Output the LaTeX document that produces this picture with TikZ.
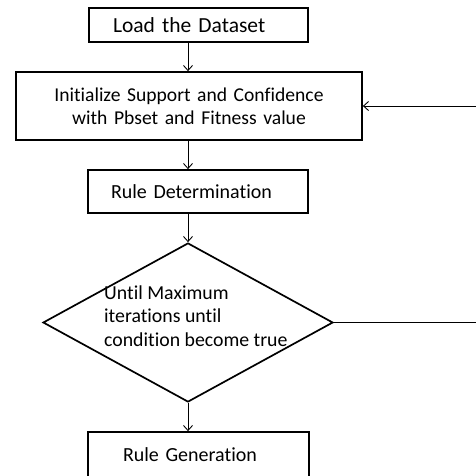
\documentclass[tikz,border=0pt]{standalone}
\usepackage{fontspec}
\setmainfont{Carlito}[Ligatures=NoCommon]
\usetikzlibrary{shapes.geometric,arrows.meta}

\begin{document}
\begin{tikzpicture}[x=1pt, y=-1pt,
        box/.style={draw, rectangle, line width=1.7pt, inner ysep=0pt, align=left,
                    font=\fontsize{20}{23.5}\selectfont},
        decision/.style={draw, diamond, line width=1.7pt, minimum width=290pt,
                         minimum height=159pt, inner sep=0pt},
        arr/.style={-{Straight Barb[length=5pt,width=9pt]}, line width=0.9pt}]
        \useasboundingbox (0,0) rectangle (476,475);

        % Steps of the flow
        \node[box, text width=171pt, inner xsep=24pt, minimum height=34pt,
              font=\fontsize{21.5}{25}\selectfont] (load) at (198.5,25) {Load the Dataset};
        \node[box, align=center, text width=334pt, inner xsep=6pt, minimum height=68pt,
              font=\fontsize{19.6}{23}\selectfont]
              (init) at (189,106) {Initialize Support and Confidence\\with Pbset and Fitness value};
        \node[box, text width=174pt, inner xsep=23pt, minimum height=43pt] (det) at (198,191.5) {Rule Determination};
        \node[decision] (dec) at (188,322.5) {};
        \node[align=left, inner sep=0pt, anchor=west, font=\fontsize{19.8}{23.5}\selectfont]
              (dectext) at (104,316) {Until Maximum\\iterations until\\condition become true};
        \node[box, text width=151pt, inner xsep=35pt, minimum height=46pt] (gen) at (198.5,455) {Rule Generation};

        % Loop back point, outside the visible area
        \coordinate (back) at (480,322.5);

        % Connections
        \draw[arr] (load.south -| dec) -- (init.north -| dec);
        \draw[arr] (init.south -| dec) -- (det.north -| dec);
        \draw[arr] (det.south -| dec) -- (dec.north);
        \draw[arr] (dec.south) -- (gen.north -| dec);
        \draw[arr] (dec.east) -- (back) |- (init.east);

    \end{tikzpicture}
\end{document}
